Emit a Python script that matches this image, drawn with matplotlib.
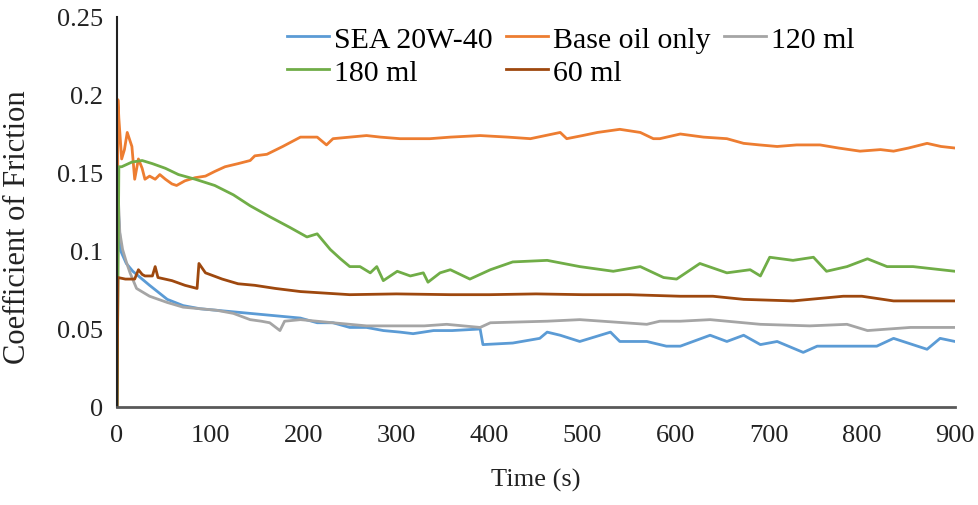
import matplotlib.pyplot as plt

plt.rcParams["font.family"] = ["Liberation Serif", "DejaVu Serif"]

# series (time in s, coefficient of friction)
sea_t = [0, 1, 4, 10, 17, 35, 54, 71, 89, 125, 143, 161, 179, 197, 215, 232, 250, 268, 286, 304,
         318, 340, 360, 390, 393, 425, 454, 462, 476, 497, 530, 540, 569, 590, 605, 637, 655, 673,
         691, 709, 737, 752, 780, 816, 834, 870, 884, 900]
sea_v = [0, 0.13, 0.10, 0.092, 0.087, 0.078, 0.069, 0.065, 0.063, 0.061, 0.060, 0.059, 0.058, 0.057,
         0.054, 0.054, 0.051, 0.051, 0.049, 0.048, 0.047, 0.049, 0.049, 0.050, 0.040, 0.041, 0.044,
         0.048, 0.046, 0.042, 0.048, 0.042, 0.042, 0.039, 0.039, 0.046, 0.042, 0.046, 0.040, 0.042,
         0.035, 0.039, 0.039, 0.039, 0.044, 0.037, 0.044, 0.042]

base_t = [0, 1, 2, 5, 8, 11, 16, 19, 23, 27, 30, 35, 41, 46, 52, 59, 64, 73, 84, 95, 105, 116, 130,
          143, 148, 161, 178, 197, 215, 225, 232, 250, 268, 283, 304, 336, 358, 390, 420, 444, 476,
          483, 500, 516, 540, 562, 576, 583, 605, 630, 655, 673, 690, 709, 730, 755, 775, 798, 820,
          834, 850, 870, 885, 900]
base_v = [0, 0.197, 0.185, 0.159, 0.165, 0.176, 0.167, 0.146, 0.159, 0.153, 0.146, 0.148, 0.146,
          0.149, 0.146, 0.143, 0.142, 0.145, 0.147, 0.148, 0.151, 0.154, 0.156, 0.158, 0.161, 0.162,
          0.167, 0.173, 0.173, 0.168, 0.172, 0.173, 0.174, 0.173, 0.172, 0.172, 0.173, 0.174, 0.173,
          0.172, 0.176, 0.172, 0.174, 0.176, 0.178, 0.176, 0.172, 0.172, 0.175, 0.173, 0.172, 0.169,
          0.168, 0.167, 0.168, 0.168, 0.166, 0.164, 0.165, 0.164, 0.166, 0.169, 0.167, 0.166]

ml120_t = [0, 1, 3, 6, 10, 14, 21, 35, 54, 71, 89, 107, 125, 143, 155, 164, 175, 180, 197, 232,
           268, 304, 330, 354, 390, 401, 462, 497, 569, 583, 605, 637, 691, 744, 784, 806, 852, 900]
ml120_v = [0, 0.14, 0.112, 0.101, 0.093, 0.086, 0.076, 0.071, 0.067, 0.064, 0.063, 0.062, 0.060,
           0.056, 0.055, 0.054, 0.049, 0.055, 0.056, 0.054, 0.052, 0.052, 0.052, 0.053, 0.051, 0.054,
           0.055, 0.056, 0.053, 0.055, 0.055, 0.056, 0.053, 0.052, 0.053, 0.049, 0.051, 0.051]

ml180_t = [0, 2, 5, 16, 27, 38, 52, 66, 84, 105, 125, 143, 164, 186, 204, 215, 229, 240, 250, 261,
           272, 279, 286, 301, 315, 329, 334, 347, 358, 379, 401, 425, 462, 497, 533, 562, 587, 601,
           626, 655, 680, 691, 701, 726, 748, 762, 784, 806, 827, 855, 900]
ml180_v = [0, 0.154, 0.154, 0.157, 0.158, 0.156, 0.153, 0.149, 0.146, 0.142, 0.136, 0.129, 0.122,
           0.115, 0.109, 0.111, 0.101, 0.095, 0.090, 0.090, 0.086, 0.090, 0.081, 0.087, 0.084, 0.086,
           0.080, 0.086, 0.088, 0.082, 0.088, 0.093, 0.094, 0.090, 0.087, 0.090, 0.083, 0.082, 0.092,
           0.086, 0.088, 0.084, 0.096, 0.094, 0.096, 0.087, 0.090, 0.095, 0.090, 0.090, 0.087]

ml60_t = [0, 1, 9, 19, 23, 27, 30, 38, 41, 44, 59, 73, 86, 88, 95, 113, 130, 148, 170, 197, 250,
          300, 358, 400, 450, 500, 550, 605, 640, 673, 726, 780, 800, 834, 870, 900]
ml60_v = [0, 0.083, 0.082, 0.082, 0.088, 0.085, 0.084, 0.084, 0.090, 0.083, 0.081, 0.078, 0.076,
          0.092, 0.086, 0.082, 0.079, 0.078, 0.076, 0.074, 0.072, 0.0725, 0.072, 0.072, 0.0725,
          0.072, 0.072, 0.071, 0.071, 0.069, 0.068, 0.071, 0.071, 0.068, 0.068, 0.068]

series = [
    ("SEA 20W-40", sea_t, sea_v, "#5B9BD5"),
    ("Base oil only", base_t, base_v, "#ED7D31"),
    ("120 ml", ml120_t, ml120_v, "#A5A5A5"),
    ("180 ml", ml180_t, ml180_v, "#70AD47"),
    ("60 ml", ml60_t, ml60_v, "#9E480E"),
]

fig = plt.figure(figsize=(9.79, 5.06), dpi=100)
ax = fig.add_axes([117 / 979, 1 - 408 / 506, (955 - 117) / 979, (408 - 18) / 506])

lines = {}
for label, t, v, color in series:
    lines[label], = ax.plot(t, v, color=color, lw=2.0, label=label)

ax.set_xlim(0, 900)
ax.set_ylim(0, 0.25)
ax.set_xticks(range(0, 901, 100))
ax.set_yticks([0, 0.05, 0.1, 0.15, 0.2, 0.25])
ax.set_yticklabels(["0", "0.05", "0.1", "0.15", "0.2", "0.25"])
ax.tick_params(length=0, labelsize=19, colors="#222222")
ax.tick_params(axis="x", pad=12)
ax.tick_params(axis="y", pad=10)

for side in ["top", "right"]:
    ax.spines[side].set_visible(False)
ax.spines["left"].set_color("#222222")
ax.spines["left"].set_linewidth(1.5)
ax.spines["bottom"].set_color("#595959")
ax.spines["bottom"].set_linewidth(2)

ax.set_xlabel("Time (s)", fontsize=19, labelpad=16, color="#222222")
ax.set_ylabel("Coefficient of Friction", fontsize=22, color="#222222")
ax.yaxis.set_label_coords(-0.102, 0.464)

# column-major order so rows read: SEA / Base oil / 120 ml, then 180 ml / 60 ml
order = ["SEA 20W-40", "180 ml", "Base oil only", "60 ml", "120 ml"]
ax.legend([lines[k] for k in order], order, loc="upper left",
          bbox_to_anchor=(287 / 979, 1 - 27 / 506), bbox_transform=fig.transFigure,
          ncol=3, frameon=False, fontsize=21.5, handlelength=1.4, handletextpad=0.17,
          columnspacing=0.45, labelspacing=0.2, borderaxespad=0, borderpad=0)

fig.savefig("out.png", dpi=100)
